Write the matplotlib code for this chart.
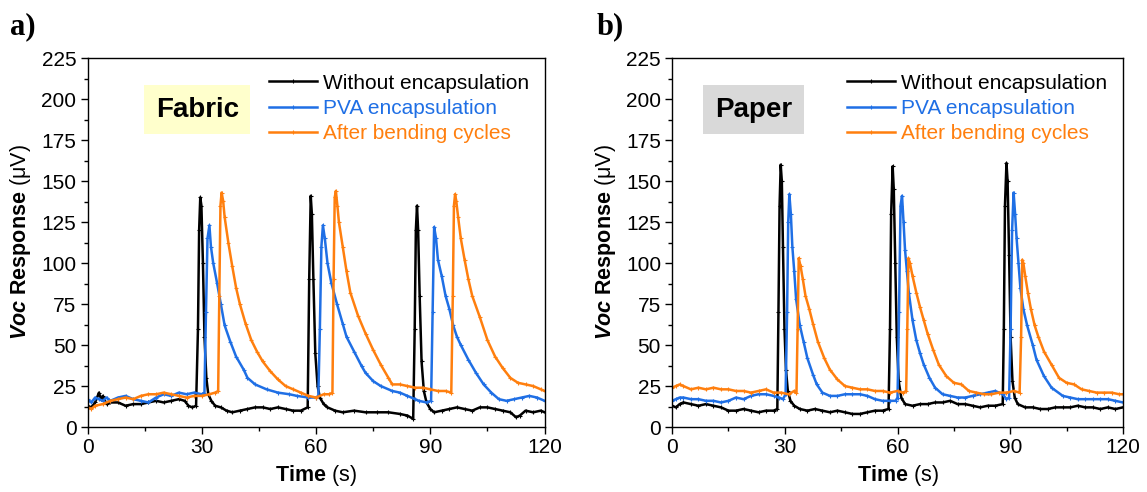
import matplotlib
matplotlib.use('Agg')
import matplotlib.pyplot as plt
from matplotlib.ticker import MultipleLocator

plt.rcParams['font.family'] = ['Liberation Sans', 'DejaVu Sans']
plt.rcParams['mathtext.fontset'] = 'custom'
plt.rcParams['mathtext.rm'] = 'Liberation Sans'
plt.rcParams['mathtext.bf'] = 'Liberation Sans:bold'
plt.rcParams['mathtext.it'] = 'Liberation Sans:italic'
plt.rcParams['mathtext.bfit'] = 'Liberation Sans:bold:italic'

labels = ['Without encapsulation', 'PVA encapsulation', 'After bending cycles']
colors = ['black', '#1f6fe5', '#ff7f0e']

# ---- Fabric (a) ----
fab_t_black = [0, 1, 2, 3, 3.5, 4, 5, 6, 8, 10, 12, 14, 16, 18, 20, 22, 24, 25.5, 26.5, 27.5, 28.5,
               29, 29.3, 29.6, 29.9, 30.3, 30.7, 31.2, 31.7, 32.5, 33.5, 35, 36.5, 38, 40, 42, 44, 46,
               48, 50, 52, 54, 56, 57.8, 58.2, 58.6, 58.9, 59.3, 59.8, 60.4, 61, 62, 63, 65, 67, 70,
               73, 76, 79, 82, 84, 85.5, 85.9, 86.2, 86.5, 86.8, 87.2, 87.7, 88.3, 89, 90, 91, 93, 95,
               97, 99, 101, 103, 105, 107, 109, 111, 112.5, 113.5, 115, 117, 119, 120]
fab_v_black = [13, 12, 15, 21, 17, 19, 14, 15, 15, 13, 14, 14, 15, 16, 15, 16, 17, 16, 13, 12, 13,
               60, 120, 140, 135, 100, 55, 30, 20, 16, 13, 12, 10, 9, 10, 11, 12, 12,
               11, 12, 11, 10, 10, 12, 90, 141, 130, 90, 45, 25, 18, 14, 12, 10, 9, 10,
               9, 9, 9, 8, 7, 5, 60, 120, 135, 120, 80, 40, 22, 15, 11, 9, 10, 11,
               12, 11, 10, 12, 12, 11, 10, 9, 6, 7, 10, 9, 10, 9]

fab_t_blue = [0, 1, 2, 3, 4, 5, 6, 8, 10, 12, 14, 16, 18, 20, 22, 24, 26, 28, 30, 30.7,
              31.1, 31.5, 32, 32.4, 33, 34, 35, 36, 37.5, 39, 41, 42, 44, 47, 50, 53, 55, 58, 60, 60.6,
              61, 61.4, 61.8, 62.3, 63, 64, 65.5, 67, 68, 70, 72, 73, 75, 77, 80, 82, 84, 86, 87, 89, 90.2,
              90.6, 91, 91.5, 92, 93, 94, 95, 96, 97, 98, 100, 102, 104, 106, 108, 110, 112, 114, 116, 118, 120]
fab_v_blue = [17, 15, 18, 17, 16, 18, 16, 18, 19, 17, 16, 15, 18, 20, 19, 21, 20, 21, 20, 21,
              70, 115, 123, 110, 100, 88, 75, 62, 52, 43, 35, 30, 26, 23, 21, 20, 19, 18, 18, 19,
              60, 110, 123, 115, 100, 88, 75, 63, 55, 46, 37, 33, 28, 25, 22, 21, 19, 17, 16, 15, 16,
              70, 122, 115, 102, 92, 80, 72, 62, 55, 50, 41, 33, 26, 21, 17, 16, 17, 18, 19, 18, 16]

fab_t_orange = [0, 1, 2, 4, 6, 8, 10, 12, 14, 16, 18, 20, 22, 24, 26, 28, 30, 32, 33.5, 34.3,
                34.6, 34.9, 35.2, 35.6, 36, 37, 38, 39, 40, 41.5, 43, 44.5, 46, 48, 50, 52, 54, 56, 58,
                60, 62, 63.5, 64.3, 64.6, 64.9, 65.2, 65.6, 66, 67, 68, 69, 71, 73, 75, 77, 79, 80, 82,
                84, 86, 88, 90, 92, 94, 95.5, 95.9, 96.2, 96.5, 96.8, 97.3, 98, 99, 100, 101, 103, 105,
                107, 109, 111, 113, 115, 117, 119, 120]
fab_v_orange = [12, 11, 13, 14, 16, 17, 18, 17, 19, 20, 20, 21, 20, 19, 18, 19, 19, 20, 21, 22,
                80, 135, 143, 138, 128, 112, 98, 85, 75, 63, 53, 46, 40, 34, 29, 25, 23, 21, 19,
                18, 20, 20, 21, 90, 140, 144, 135, 125, 110, 95, 82, 68, 57, 47, 38, 30, 26, 26,
                25, 24, 24, 23, 22, 22, 21, 80, 135, 142, 138, 128, 115, 102, 90, 80, 67, 53,
                43, 36, 30, 27, 26, 25, 23, 22]

# ---- Paper (b) ----
pap_t_black = [0, 1, 2, 3, 5, 7, 9, 11, 13, 15, 17, 19, 21, 23, 25, 27, 28, 28.3, 28.6, 28.9,
               29.2, 29.5, 29.9, 30.3, 30.8, 31.5, 32.5, 34, 36, 38, 40, 42, 44, 46, 48, 50, 52, 54,
               56, 57.6, 58, 58.3, 58.7, 59, 59.4, 59.8, 60.3, 61, 62, 64, 66, 68, 70, 72, 74, 76,
               78, 80, 82, 84, 86, 88, 88.3, 88.6, 89, 89.3, 89.7, 90.1, 90.6, 91.2, 92, 94, 96, 98,
               100, 102, 104, 106, 108, 110, 112, 114, 116, 118, 120]
pap_v_black = [13, 12, 14, 15, 14, 13, 14, 13, 12, 10, 10, 11, 10, 9, 10, 10, 11, 70, 135, 160,
               150, 110, 60, 35, 22, 16, 13, 11, 10, 11, 10, 9, 10, 9, 8, 8, 9, 10,
               10, 11, 60, 130, 159, 145, 100, 55, 28, 18, 14, 13, 14, 14, 15, 15, 16, 14,
               14, 13, 12, 13, 13, 14, 60, 135, 161, 150, 105, 55, 28, 18, 14, 12, 12, 11,
               11, 12, 12, 12, 13, 12, 12, 11, 12, 11, 12]

pap_t_blue = [0, 1, 2, 3, 5, 7, 9, 11, 13, 15, 17, 19, 21, 23, 25, 27, 28.5, 29.5, 30.2,
              30.6, 30.9, 31.2, 31.6, 32, 32.5, 33, 34, 35, 36, 37.5, 38.5, 40, 42, 44, 46, 48, 50,
              52, 54, 56, 58, 59.5, 60, 60.4, 60.8, 61.2, 61.6, 62, 62.5, 63, 64, 65, 66, 67, 68.5,
              70, 72, 74, 76, 78, 80, 82, 84, 86, 88, 89, 89.7, 90.1, 90.5, 90.9, 91.3, 91.7,
              92.2, 92.7, 93.5, 94.5, 96, 97, 99, 101, 104, 106, 108, 110, 112, 114, 116, 118, 120]
pap_v_blue = [16, 17, 18, 18, 17, 17, 16, 16, 15, 16, 18, 17, 19, 20, 20, 19, 18, 17, 20,
              70, 125, 142, 130, 110, 95, 78, 62, 52, 42, 32, 26, 21, 19, 19, 20, 20, 20,
              19, 17, 16, 16, 16, 18, 70, 135, 141, 125, 108, 95, 82, 65, 53, 45, 38, 30,
              24, 20, 19, 18, 18, 19, 20, 21, 22, 20, 17, 18, 60, 120, 143, 130, 115,
              100, 85, 72, 62, 50, 41, 31, 24, 19, 18, 17, 17, 17, 17, 17, 16, 15]

pap_t_orange = [0, 1, 2, 3, 5, 7, 9, 11, 13, 15, 17, 19, 21, 23, 25, 27, 29, 31, 32.5, 33.1,
                33.4, 33.7, 34.2, 34.8, 35.5, 36.5, 37.5, 38.8, 40.5, 42, 44, 46, 48, 50, 52, 54, 56,
                58, 60, 61.5, 62.3, 62.6, 62.9, 63.3, 64, 65, 66, 67, 68, 69.5, 71, 73, 75, 77, 79, 81,
                83, 85, 87, 89, 91, 92.5, 92.9, 93.2, 93.5, 94, 94.7, 95.5, 96.5, 97.5, 99, 101, 103,
                105, 107, 109, 111, 113, 115, 117, 119, 120]
pap_v_orange = [24, 25, 26, 25, 23, 24, 23, 24, 23, 23, 22, 22, 21, 22, 23, 21, 21, 20, 22, 21,
                60, 103, 98, 90, 80, 72, 63, 52, 42, 35, 29, 25, 24, 23, 23, 22, 22,
                21, 22, 21, 22, 60, 103, 100, 92, 82, 73, 65, 57, 47, 38, 31, 27, 26, 22, 21,
                20, 20, 21, 21, 22, 21, 55, 102, 100, 92, 82, 72, 62, 55, 46, 38, 30,
                27, 26, 23, 22, 21, 21, 21, 20, 20]

panels = [
    ('a)', 'Fabric', '#ffffcc', 0.24,
     [(fab_t_black, fab_v_black), (fab_t_blue, fab_v_blue), (fab_t_orange, fab_v_orange)]),
    ('b)', 'Paper', '#d9d9d9', 0.18,
     [(pap_t_black, pap_v_black), (pap_t_blue, pap_v_blue), (pap_t_orange, pap_v_orange)]),
]

fig = plt.figure(figsize=(11.47, 4.92), dpi=100)
axes_pos = [[0.0763, 0.132, 0.3985, 0.750], [0.586, 0.132, 0.393, 0.750]]
letter_x = [0.009, 0.520]

for i, (letter, name, boxcolor, box_x, series) in enumerate(panels):
    ax = fig.add_axes(axes_pos[i])
    for (t, v), lab, c in zip(series, labels, colors):
        ax.plot(t, v, color=c, lw=1.8, marker='+', ms=2.5, mew=0.8, label=lab)

    ax.set_xlim(0, 120)
    ax.set_ylim(0, 225)
    ax.xaxis.set_major_locator(MultipleLocator(30))
    ax.xaxis.set_minor_locator(MultipleLocator(15))
    ax.yaxis.set_major_locator(MultipleLocator(25))
    ax.yaxis.set_minor_locator(MultipleLocator(12.5))
    ax.tick_params(which='both', direction='out', top=False, right=False, labelsize=15)
    ax.tick_params(which='major', length=5, width=1, pad=3)
    ax.tick_params(which='minor', length=3, width=1)
    for sp in ax.spines.values():
        sp.set_linewidth(1)

    ax.set_xlabel(r'$\mathbf{Time}$ (s)', fontsize=15.5, labelpad=4)
    ax.set_ylabel(r'$\mathbfit{Voc}$ $\mathbf{Response}$ (μV)', fontsize=15.5, labelpad=6)

    leg = ax.legend(loc='upper right', frameon=False, fontsize=15, handlelength=2.3,
                    handletextpad=0.3, labelspacing=0.3, borderaxespad=0.35,
                    bbox_to_anchor=(1.0, 1.0))
    for txt, c in zip(leg.get_texts(), colors):
        txt.set_color(c)

    ax.text(box_x, 0.86, name, transform=ax.transAxes, fontsize=20,
            fontweight='bold', ha='center', va='center',
            bbox=dict(boxstyle='square,pad=0.42', fc=boxcolor, ec='none'))

    fig.text(letter_x[i], 0.945, letter, fontsize=22, fontweight='bold',
             family='Liberation Serif', ha='left', va='center')

fig.savefig('out.png', dpi=100)
